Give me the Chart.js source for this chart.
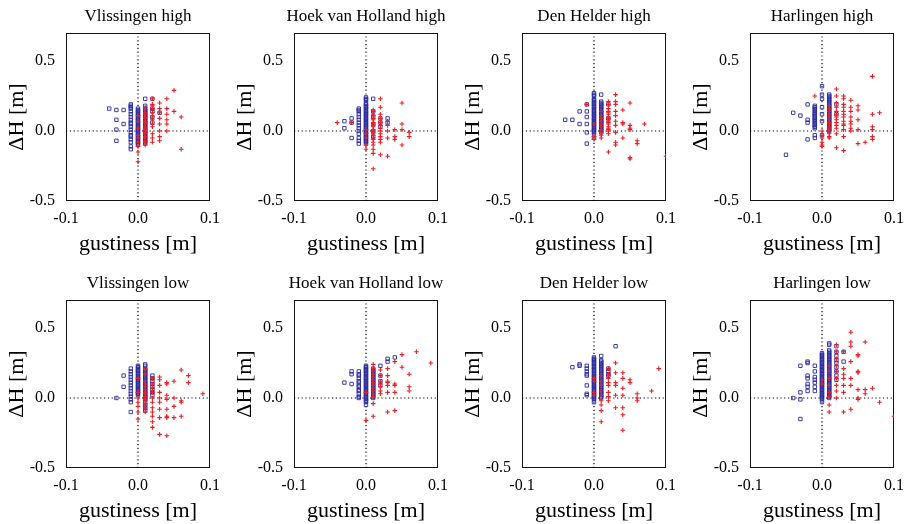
<!DOCTYPE html>
<html>
<head>
<meta charset="utf-8">
<script src="https://cdn.jsdelivr.net/npm/chart.js@4.4.0/dist/chart.umd.min.js"></script>
<style>
  body { margin: 0; background: #fff; width: 914px; height: 524px; position: relative; overflow: hidden; }
  canvas { position: absolute; }
</style>
</head>
<body>
<script>
// panel titles, row by row
const panelTitles = [
    "Vlissingen high", "Hoek van Holland high", "Den Helder high", "Harlingen high",
    "Vlissingen low", "Hoek van Holland low", "Den Helder low", "Harlingen low"
];
const xTicks = [-0.1, 0.0, 0.1];
const yTicks = [-0.5, 0.0, 0.5];
const xMin = -0.1, xMax = 0.1, yMin = -0.5, yMax = 0.7;

// each entry: [gustiness, [dH values read at that gustiness]]
// blue squares / red pluses
const vlisHighBlue = [
    [-0.04, [0.16]],
    [-0.03, [0.15, 0.08, 0.01, -0.07]],
    [-0.02, [0.15, 0.05]],
    [-0.01, [0.19, 0.18, 0.17, 0.16, 0.14, 0.12, 0.10, 0.08, 0.06, 0.05, 0.03, 0.01, -0.01, -0.03, -0.04, -0.06, -0.08, -0.11, -0.13]],
    [0.00, [0.16, 0.15, 0.14, 0.13, 0.12, 0.11, 0.10, 0.09, 0.08, 0.07, 0.06, 0.05, 0.04, 0.03, 0.02, 0.01, 0.00, -0.01, -0.02, -0.03, -0.04, -0.05, -0.06, -0.07, -0.08, -0.09, -0.10]],
    [0.01, [0.23, 0.18, 0.16, 0.15, 0.14, 0.13, 0.12, 0.11, 0.10, 0.09, 0.08, 0.07, 0.06, 0.05, 0.04, 0.03, 0.02, 0.01, 0.00, -0.01, -0.02, -0.03, -0.04, -0.05, -0.06, -0.07, -0.08, -0.09]],
    [0.02, [0.23, 0.16, 0.14, 0.10, 0.06]],
    [0.03, [0.13]]
];
const vlisHighRed = [
    [0.00, [0.11, 0.07, 0.02, -0.03, -0.05, -0.08, -0.11, -0.15, -0.22]],
    [0.01, [0.17, 0.15, 0.13, 0.12, 0.10, 0.09, 0.07, 0.06, 0.05, 0.03, 0.02, 0.01, 0.00, -0.01, -0.02, -0.04, -0.05, -0.07, -0.08, -0.10]],
    [0.02, [0.23, 0.19, 0.18, 0.16, 0.13, 0.10, 0.08, 0.05, 0.03, -0.02, -0.05, -0.08]],
    [0.03, [0.20, 0.16, 0.13, 0.09, 0.05, 0.00, -0.04, -0.07]],
    [0.04, [0.23, 0.16, 0.12, 0.08, 0.05, 0.00]],
    [0.05, [0.29, 0.14]],
    [0.06, [0.10, -0.13]]
];

const hoekHighBlue = [
    [-0.03, [0.07, 0.02]],
    [-0.02, [0.09, 0.06, -0.05]],
    [-0.01, [0.16, 0.15, 0.14, 0.12, 0.10, 0.08, 0.06, 0.04, 0.02, 0.00, -0.02, -0.05, -0.07, -0.09]],
    [0.00, [0.24, 0.23, 0.22, 0.20, 0.19, 0.18, 0.17, 0.16, 0.15, 0.14, 0.13, 0.12, 0.11, 0.10, 0.09, 0.08, 0.07, 0.06, 0.05, 0.04, 0.03, 0.02, 0.01, 0.00, -0.01, -0.02, -0.03, -0.04, -0.05, -0.06, -0.07, -0.08, -0.09]],
    [0.01, [0.23, 0.14, 0.10, 0.05, 0.00, -0.04]],
    [0.02, [0.09, 0.06, 0.03]],
    [0.03, [0.09, 0.06]]
];
const hoekHighRed = [
    [-0.04, [0.06]],
    [-0.02, [0.06]],
    [0.00, [0.01, -0.02, -0.05, -0.10, -0.13]],
    [0.01, [0.15, 0.14, 0.12, 0.11, 0.09, 0.08, 0.06, 0.05, 0.04, 0.03, 0.01, 0.00, -0.01, -0.02, -0.03, -0.05, -0.06, -0.08, -0.10, -0.13, -0.16, -0.27]],
    [0.02, [0.23, 0.17, 0.12, 0.09, 0.06, 0.04, 0.02, 0.00, -0.02, -0.04, -0.06, -0.08, -0.17]],
    [0.03, [0.07, 0.04, 0.00, -0.05, -0.18]],
    [0.04, [0.01, -0.04, -0.06]],
    [0.05, [0.20, 0.05, 0.01, -0.10]],
    [0.06, [-0.01, -0.04]]
];

const denHighBlue = [
    [-0.04, [0.08]],
    [-0.03, [0.08]],
    [-0.02, [0.14, 0.05]],
    [-0.01, [0.19, 0.14, 0.10, 0.05, -0.01, -0.09]],
    [0.00, [0.27, 0.26, 0.25, 0.23, 0.22, 0.21, 0.20, 0.19, 0.18, 0.17, 0.16, 0.15, 0.14, 0.13, 0.12, 0.11, 0.10, 0.09, 0.08, 0.07, 0.06, 0.05, 0.04, 0.03, 0.02, 0.01, 0.00, -0.01, -0.03, -0.05]],
    [0.01, [0.26, 0.21, 0.20, 0.19, 0.18, 0.17, 0.16, 0.15, 0.14, 0.13, 0.12, 0.11, 0.10, 0.09, 0.08, 0.07, 0.06, 0.05, 0.04, 0.03, 0.02, 0.01, 0.00, -0.01]],
    [0.02, [0.19, 0.09]]
];
const denHighRed = [
    [-0.01, [0.19]],
    [0.00, [0.05, -0.04, -0.06]],
    [0.01, [0.14, 0.11, 0.09, 0.07, 0.05, 0.03, 0.01, -0.01, -0.03, -0.05]],
    [0.02, [0.21, 0.19, 0.16, 0.14, 0.13, 0.12, 0.10, 0.09, 0.08, 0.07, 0.06, 0.05, 0.03, 0.02, 0.01, 0.00, -0.02, -0.15]],
    [0.03, [0.26, 0.21, 0.19, 0.14, 0.11, 0.07, 0.04, -0.01, -0.08, -0.10]],
    [0.04, [0.15, 0.06, 0.05, -0.05]],
    [0.05, [0.20, 0.04, 0.02, 0.01, -0.19, -0.20]],
    [0.06, [-0.07, -0.09]],
    [0.07, [0.05]],
    [0.10, [-0.18]]
];

const harlHighBlue = [
    [-0.05, [-0.17]],
    [-0.04, [0.13]],
    [-0.03, [0.11]],
    [-0.02, [0.19, 0.08, 0.06, -0.06]],
    [-0.01, [0.18, 0.17, 0.16, 0.15, 0.14, 0.13, 0.12, 0.11, 0.10, 0.09, 0.08, 0.07, 0.06, 0.05, 0.04, 0.03, 0.02, -0.03, -0.05]],
    [0.00, [0.32, 0.26, 0.23, 0.17, 0.12, 0.07, -0.03]],
    [0.01, [0.26, 0.25, 0.24, 0.23, 0.22, 0.21, 0.20, 0.19, 0.18, 0.17, 0.16, 0.15, 0.14, 0.13, 0.12, 0.11, 0.10, 0.09, 0.08, 0.07, 0.06, 0.05, 0.04, 0.03, 0.02, 0.01, 0.00]],
    [0.02, [0.19, 0.12]]
];
const harlHighRed = [
    [-0.01, [0.25]],
    [0.00, [0.00, -0.03, -0.05, -0.08, -0.10, -0.11]],
    [0.01, [0.18, 0.16, 0.14, 0.12, 0.10, 0.08, 0.06, 0.05, 0.03, 0.02, 0.01, 0.00, -0.02, -0.04, -0.05]],
    [0.02, [0.30, 0.25, 0.20, 0.17, 0.14, 0.12, 0.10, 0.08, 0.06, 0.04, 0.02, -0.02, -0.12]],
    [0.03, [0.25, 0.23, 0.19, 0.17, 0.14, 0.12, 0.10, 0.07, 0.05, 0.04, 0.01, -0.04, -0.14]],
    [0.04, [0.22, 0.17, 0.14, 0.10, 0.07, 0.05, 0.02, 0.00]],
    [0.05, [0.18, 0.15, 0.08, 0.01, -0.09]],
    [0.06, [-0.08]],
    [0.07, [0.39, 0.12, 0.03, 0.01, -0.04, -0.06]],
    [0.08, [0.13]]
];

const vlisLowBlue = [
    [-0.03, [0.00]],
    [-0.02, [0.16, 0.08]],
    [-0.01, [0.21, 0.19, 0.17, 0.15, 0.13, 0.11, 0.09, 0.07, 0.05, 0.03, 0.01, -0.01, -0.03, -0.10]],
    [0.00, [0.23, 0.22, 0.21, 0.20, 0.19, 0.18, 0.17, 0.16, 0.15, 0.14, 0.13, 0.12, 0.11, 0.10, 0.09, 0.08, 0.07, 0.06, 0.05, 0.04, 0.03, 0.02]],
    [0.01, [0.24, 0.23, 0.21, 0.20, 0.19, 0.18, 0.17, 0.16, 0.15, 0.14, 0.13, 0.12, 0.11, 0.10, 0.09, 0.08, 0.07, 0.06, 0.05, 0.04, 0.03, 0.02, 0.01, 0.00, -0.01, -0.03, -0.05, -0.07, -0.09]],
    [0.02, [0.16, 0.14, 0.12, 0.10, 0.08, 0.06, 0.04, 0.02]]
];
const vlisLowRed = [
    [0.00, [0.14, 0.04, 0.00, -0.03, -0.06, -0.10, -0.15]],
    [0.01, [0.21, 0.17, 0.12, 0.10, 0.08, 0.06, 0.04, 0.03, 0.01, 0.00, -0.01, -0.02, -0.04, -0.05, -0.07, -0.08, -0.10]],
    [0.02, [0.14, 0.10, 0.07, 0.04, 0.00, -0.03, -0.07, -0.10, -0.13, -0.17, -0.21]],
    [0.03, [0.15, 0.13, 0.09, 0.04, 0.00, -0.03, -0.08, -0.14, -0.26]],
    [0.04, [0.11, 0.10, 0.02, -0.01, -0.08, -0.13, -0.14, -0.27]],
    [0.05, [0.12, 0.00, -0.06, -0.14]],
    [0.06, [0.20, -0.02, -0.03, -0.13]],
    [0.07, [0.16, 0.11]],
    [0.09, [0.03]]
];

const hoekLowBlue = [
    [-0.03, [0.11]],
    [-0.02, [0.19, 0.17, 0.10]],
    [-0.01, [0.19, 0.17, 0.16, 0.14, 0.12, 0.11, 0.09, 0.08, 0.06, 0.05, 0.03, 0.01, 0.00]],
    [0.00, [0.23, 0.22, 0.21, 0.20, 0.19, 0.18, 0.17, 0.16, 0.15, 0.14, 0.13, 0.12, 0.11, 0.10, 0.09, 0.08, 0.07, 0.06, 0.05, 0.04, 0.03, 0.02, 0.01, 0.00, -0.01, -0.02, -0.03, -0.05]],
    [0.01, [0.21, 0.20, 0.19, 0.18, 0.17, 0.16, 0.15, 0.14, 0.13, 0.12, 0.11, 0.10, 0.09, 0.08, 0.07, 0.06, 0.05, 0.04, 0.03, 0.02, 0.01, 0.00]],
    [0.02, [0.23, 0.16, 0.12, 0.09]],
    [0.03, [0.28, 0.26]],
    [0.04, [0.29]]
];
const hoekLowRed = [
    [0.00, [0.04, -0.16]],
    [0.01, [0.24, 0.21, 0.19, 0.17, 0.15, 0.13, 0.11, 0.09, 0.07, 0.05, 0.03, 0.01, -0.04, -0.13]],
    [0.02, [0.20, 0.16, 0.12, 0.10, 0.08, 0.05, 0.03]],
    [0.03, [0.21, 0.16, 0.12, 0.11, 0.09, 0.04, -0.10]],
    [0.04, [0.26, 0.10, 0.09, 0.04, -0.09]],
    [0.05, [0.31, 0.22]],
    [0.06, [0.17, 0.08, 0.05]],
    [0.07, [0.33]],
    [0.09, [0.25]]
];

const denLowBlue = [
    [-0.03, [0.22]],
    [-0.02, [0.24, 0.23]],
    [-0.01, [0.23, 0.21, 0.19, 0.17, 0.16, 0.09, 0.03, 0.02]],
    [0.00, [0.29, 0.28, 0.27, 0.26, 0.25, 0.24, 0.23, 0.22, 0.21, 0.20, 0.19, 0.18, 0.17, 0.16, 0.15, 0.14, 0.13, 0.12, 0.11, 0.10, 0.09, 0.08, 0.07, 0.06, 0.05, 0.04, 0.03, 0.02, 0.01, 0.00, -0.01, -0.03]],
    [0.01, [0.30, 0.27, 0.26, 0.25, 0.24, 0.23, 0.22, 0.21, 0.20, 0.19, 0.18, 0.17, 0.16, 0.15, 0.14, 0.13, 0.12, 0.11, 0.10, 0.09, 0.08, 0.07, 0.06, 0.05, 0.04, 0.03, 0.02, 0.01, 0.00]],
    [0.02, [0.21, 0.19, 0.17, 0.16]],
    [0.03, [0.37]]
];
const denLowRed = [
    [0.00, [0.14, 0.12, 0.04, 0.02]],
    [0.01, [0.16, 0.12, 0.09, 0.05, 0.02, -0.02, -0.05, -0.09, -0.17]],
    [0.02, [0.21, 0.17, 0.14, 0.11, 0.09, 0.04, 0.01, -0.02]],
    [0.03, [0.25, 0.18, 0.11, 0.09, 0.02, -0.07]],
    [0.04, [0.18, 0.14, 0.07, 0.02, -0.07, -0.12, -0.23]],
    [0.05, [0.13, 0.11]],
    [0.06, [0.03, 0.00, -0.02]],
    [0.08, [0.05]],
    [0.09, [0.21]]
];

const harlLowBlue = [
    [-0.04, [0.00]],
    [-0.03, [0.23, 0.04, -0.01, -0.15]],
    [-0.02, [0.26, 0.25, 0.16, 0.14, 0.10, 0.08, 0.05]],
    [-0.01, [0.23, 0.19, 0.15, 0.13, 0.11, 0.08, 0.05]],
    [0.00, [0.32, 0.31, 0.30, 0.29, 0.28, 0.27, 0.26, 0.25, 0.24, 0.23, 0.22, 0.21, 0.20, 0.19, 0.18, 0.17, 0.16, 0.15, 0.14, 0.13, 0.12, 0.11, 0.10, 0.09, 0.08, 0.07, 0.06, 0.05, 0.04, 0.03, 0.02, 0.01, 0.00, -0.01, -0.03]],
    [0.01, [0.39, 0.38, 0.34, 0.33, 0.32, 0.31, 0.30, 0.29, 0.28, 0.27, 0.26, 0.25, 0.24, 0.23, 0.22, 0.21, 0.20, 0.19, 0.18, 0.17, 0.16, 0.15, 0.14, 0.13, 0.12, 0.11, 0.10, 0.09, 0.08, 0.07, 0.06, 0.05, 0.04, 0.03, 0.02, 0.01, 0.00]],
    [0.02, [0.37, 0.33, 0.30, 0.27, 0.25, 0.22, 0.19, 0.16, 0.13]],
    [0.03, [0.33, 0.26]]
];
const harlLowRed = [
    [0.00, [0.13, 0.10]],
    [0.01, [0.23, 0.19, 0.14, 0.09, 0.04, 0.01, -0.05, -0.10]],
    [0.02, [0.38, 0.33, 0.28, 0.23, 0.19, 0.14, 0.09, 0.05, 0.00]],
    [0.03, [0.33, 0.21, 0.17, 0.14, 0.09, 0.04, -0.10]],
    [0.04, [0.47, 0.40, 0.37, 0.26, 0.14, 0.09, -0.08]],
    [0.05, [0.31, 0.30, 0.19, 0.18, 0.06, 0.00, -0.01]],
    [0.06, [0.40, 0.06, 0.03]],
    [0.07, [0.07]],
    [0.08, [-0.03]],
    [0.10, [-0.13]]
];

const blueSets = [vlisHighBlue, hoekHighBlue, denHighBlue, harlHighBlue, vlisLowBlue, hoekLowBlue, denLowBlue, harlLowBlue];
const redSets = [vlisHighRed, hoekHighRed, denHighRed, harlHighRed, vlisLowRed, hoekLowRed, denLowRed, harlLowRed];

const serif = "'Liberation Serif', 'DejaVu Serif', serif";
const canvasW = 228, canvasH = 257;

function toPoints(columns) {
    let pts = [];
    columns.forEach(([x, ys]) => ys.forEach(y => pts.push({ x: x, y: y })));
    return pts;
}

// black frame round the plot area
const boxPlugin = {
    id: 'box',
    beforeDatasetsDraw(chart) {
        let { ctx, chartArea: a } = chart;
        ctx.save();
        ctx.strokeStyle = '#111';
        ctx.lineWidth = 1;
        ctx.strokeRect(a.left + 0.5, a.top + 0.5, a.right - a.left - 1, a.bottom - a.top - 1);
        ctx.restore();
    }
};

// panel title centred over the plot area (may be wider than the plot)
const titlePlugin = {
    id: 'panelTitle',
    afterDraw(chart, args, opts) {
        let { ctx, chartArea: a } = chart;
        ctx.save();
        ctx.font = '17px ' + serif;
        ctx.fillStyle = '#000';
        ctx.textAlign = 'center';
        ctx.textBaseline = 'middle';
        ctx.fillText(opts.text, (a.left + a.right) / 2, a.top - 16);
        ctx.restore();
    }
};

function makePanel(i) {
    let row = Math.floor(i / 4), col = i % 4;
    let canvas = document.createElement('canvas');
    canvas.width = canvasW;
    canvas.height = canvasH;
    canvas.style.left = (col * 228) + 'px';
    canvas.style.top = (row * 267) + 'px';
    canvas.style.width = canvasW + 'px';
    canvas.style.height = canvasH + 'px';
    document.body.appendChild(canvas);

    new Chart(canvas.getContext('2d'), {
        type: 'scatter',
        data: {
            datasets: [
                {
                    type: 'line', data: [{ x: xMin, y: 0 }, { x: xMax, y: 0 }],
                    borderColor: '#000', borderWidth: 1.2, borderDash: [1.2, 2.6],
                    pointRadius: 0, order: 4
                },
                {
                    type: 'line', data: [{ x: 0, y: yMin }, { x: 0, y: yMax }],
                    borderColor: '#000', borderWidth: 1.2, borderDash: [1.2, 2.6],
                    pointRadius: 0, order: 4
                },
                {
                    data: toPoints(blueSets[i]),
                    pointStyle: 'rect', pointRadius: 2.4, pointBorderWidth: 0.9,
                    borderColor: 'rgb(42,42,160)', backgroundColor: 'rgba(0,0,0,0)',
                    order: 2
                },
                {
                    data: toPoints(redSets[i]),
                    pointStyle: 'cross', pointRadius: 2.3, pointBorderWidth: 1.1,
                    borderColor: '#ea1f26', backgroundColor: '#ea1f26',
                    order: 1
                }
            ]
        },
        options: {
            responsive: false,
            devicePixelRatio: 1,
            animation: false,
            layout: { padding: { left: 0, right: 14, top: 33, bottom: 0 } },
            plugins: {
                legend: { display: false },
                tooltip: { enabled: false },
                title: { display: false },
                panelTitle: { text: panelTitles[i] }
            },
            scales: {
                x: {
                    type: 'linear', min: xMin, max: xMax,
                    afterBuildTicks: axis => { axis.ticks = xTicks.map(v => ({ value: v })); },
                    afterFit: axis => { axis.height = 56; },
                    grid: { display: false, drawTicks: false },
                    border: { display: false },
                    ticks: {
                        padding: 8, color: '#000', maxRotation: 0, autoSkip: false,
                        font: { family: serif, size: 16 },
                        callback: v => v.toFixed(1)
                    },
                    title: {
                        display: true, text: 'gustiness [m]', color: '#000',
                        font: { family: serif, size: 22 },
                        padding: { top: 0, bottom: 0 }
                    }
                },
                y: {
                    type: 'linear', min: yMin, max: yMax,
                    afterBuildTicks: axis => { axis.ticks = yTicks.map(v => ({ value: v })); },
                    afterFit: axis => { axis.width = 66; },
                    grid: { display: false, drawTicks: false },
                    border: { display: false },
                    ticks: {
                        padding: 11, color: '#000', autoSkip: false,
                        font: { family: serif, size: 16 },
                        callback: v => v.toFixed(1)
                    },
                    title: {
                        display: true, text: 'ΔH [m]', color: '#000',
                        font: { family: serif, size: 22 },
                        padding: { top: 4, bottom: 0 }
                    }
                }
            }
        },
        plugins: [boxPlugin, titlePlugin]
    });
}

for (let i = 0; i < 8; i++) makePanel(i);
</script>
</body>
</html>
